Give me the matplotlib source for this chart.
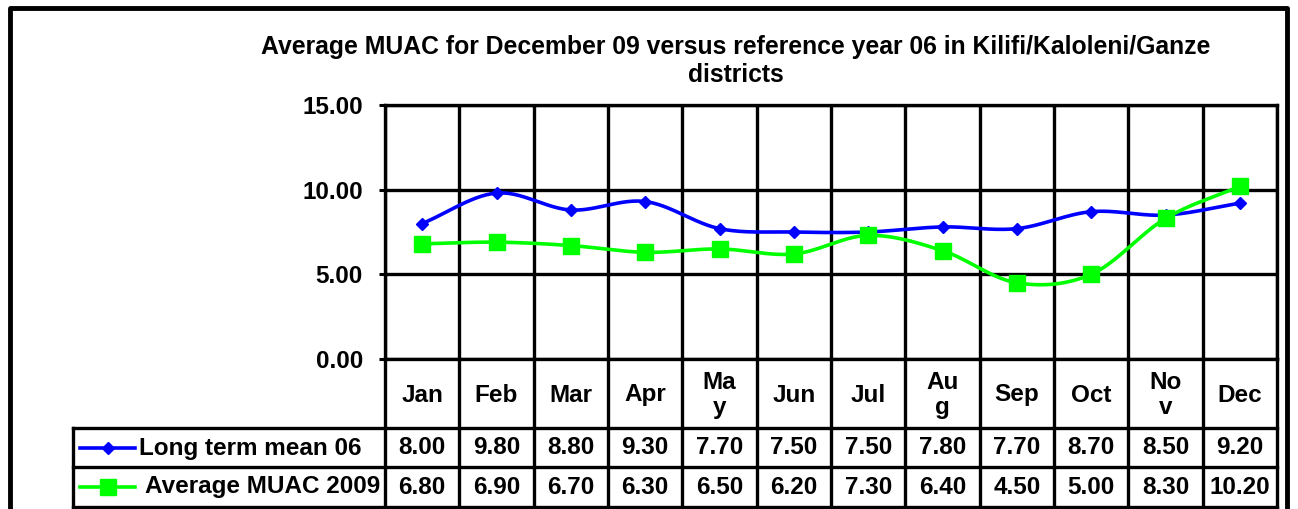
import numpy as np
import matplotlib
matplotlib.use("Agg")
import matplotlib.pyplot as plt
from matplotlib.transforms import blended_transform_factory
from matplotlib.lines import Line2D

months = ["Jan", "Feb", "Mar", "Apr", "Ma\ny", "Jun", "Jul", "Au\ng", "Sep", "Oct", "No\nv", "Dec"]
long_term = [8.00, 9.80, 8.80, 9.30, 7.70, 7.50, 7.50, 7.80, 7.70, 8.70, 8.50, 9.20]
muac_2009 = [6.80, 6.90, 6.70, 6.30, 6.50, 6.20, 7.30, 6.40, 4.50, 5.00, 8.30, 10.20]
series_names = ["Long term mean 06", "Average MUAC 2009"]
title = "Average MUAC for December 09 versus reference year 06 in Kilifi/Kaloleni/Ganze\ndistricts"
yticks = [0, 5, 10, 15]

W, H = 1298, 509
FONT = "Liberation Sans"
FS = 17.5


def fx(x):
    return x / W


def fy(y):
    return 1 - y / H


def smooth(xs, ys, n=30):
    # Catmull-Rom spline through the data points (Excel "smoothed line" style)
    xs = np.asarray(xs, float)
    ys = np.asarray(ys, float)
    px = np.concatenate([[2 * xs[0] - xs[1]], xs, [2 * xs[-1] - xs[-2]]])
    py = np.concatenate([[2 * ys[0] - ys[1]], ys, [2 * ys[-1] - ys[-2]]])
    outx, outy = [], []
    t = np.linspace(0, 1, n)
    for i in range(1, len(px) - 2):
        for arr, out in ((px, outx), (py, outy)):
            p0, p1, p2, p3 = arr[i - 1], arr[i], arr[i + 1], arr[i + 2]
            out.extend(0.5 * ((2 * p1) + (-p0 + p2) * t + (2 * p0 - 5 * p1 + 4 * p2 - p3) * t ** 2
                              + (-p0 + 3 * p1 - 3 * p2 + p3) * t ** 3))
    return np.array(outx), np.array(outy)


fig = plt.figure(figsize=(W / 100, H / 100), dpi=100)
fig.patch.set_facecolor("white")

ax = fig.add_axes([fx(385), fy(359), fx(1277) - fx(385), fy(105) - fy(359)])
x = np.arange(len(months))
ax.set_xlim(-0.5, len(months) - 0.5)
ax.set_ylim(0, 15)
ax.set_yticks(yticks)
ax.set_yticklabels([f"{v:.2f}" for v in yticks], fontfamily=FONT, fontweight="bold", fontsize=FS)
ax.set_xticks(np.arange(-0.5, len(months), 1), minor=True)
ax.set_xticks([])
ax.tick_params(axis="y", length=4, width=2.2, pad=12)
ax.tick_params(axis="x", which="both", length=0)
ax.grid(axis="y", which="major", color="black", lw=2.4)
ax.grid(axis="x", which="minor", color="black", lw=2.4)
for s in ax.spines.values():
    s.set_linewidth(2.4)
ax.set_axisbelow(True)

colors = ["#0000ff", "#00ff00"]
markers = ["D", "s"]
msizes = [6.5, 11]
for vals, c, m, ms in zip([long_term, muac_2009], colors, markers, msizes):
    sx, sy = smooth(x, vals)
    ax.plot(sx, sy, color=c, lw=2.6, zorder=3, solid_capstyle="round")
    ax.plot(x, vals, ls="none", marker=m, color=c, ms=ms, zorder=4)

# Data table under the axis
bt = blended_transform_factory(ax.transData, fig.transFigure)
lw = 2.4
for b in np.arange(-0.5, len(months), 1):
    fig.add_artist(Line2D([b, b], [fy(359), fy(507)], transform=bt, color="black", lw=lw))
for yy in [428, 467, 507]:
    fig.add_artist(Line2D([fx(73), fx(1277)], [fy(yy), fy(yy)], color="black", lw=lw))
fig.add_artist(Line2D([fx(73), fx(73)], [fy(428), fy(507)], color="black", lw=lw))

for i, mth in enumerate(months):
    fig.text(i, fy(395), mth, transform=bt, ha="center", va="center", fontfamily=FONT,
             fontweight="bold", fontsize=FS, linespacing=1.08)
    fig.text(i, fy(448), f"{long_term[i]:.2f}", transform=bt, ha="center", va="center",
             fontfamily=FONT, fontweight="bold", fontsize=FS)
    fig.text(i, fy(487), f"{muac_2009[i]:.2f}", transform=bt, ha="center", va="center",
             fontfamily=FONT, fontweight="bold", fontsize=FS)

# legend keys in the table
rows_y = [448, 487]
text_x = [139, 145]
for name, c, m, ms, ry, tx in zip(series_names, colors, markers, msizes, rows_y, text_x):
    fig.add_artist(Line2D([fx(80), fx(135)], [fy(ry), fy(ry)], color=c, lw=2.6))
    fig.add_artist(Line2D([fx(108)], [fy(ry)], color=c, marker=m, ms=ms, ls="none"))
    fig.text(fx(tx), fy(ry), name, ha="left", va="center", fontfamily=FONT,
             fontweight="bold", fontsize=FS)

fig.text(fx(736), fy(61), title, ha="center", va="center", fontfamily=FONT,
         fontweight="bold", fontsize=17.8, linespacing=1.25)

# outer chart frame
fig.add_artist(Line2D([fx(10), fx(10), fx(1287), fx(1287)], [fy(509), fy(8), fy(8), fy(509)],
                      color="black", lw=3.5))

fig.savefig("out.png", dpi=100, facecolor="white")
